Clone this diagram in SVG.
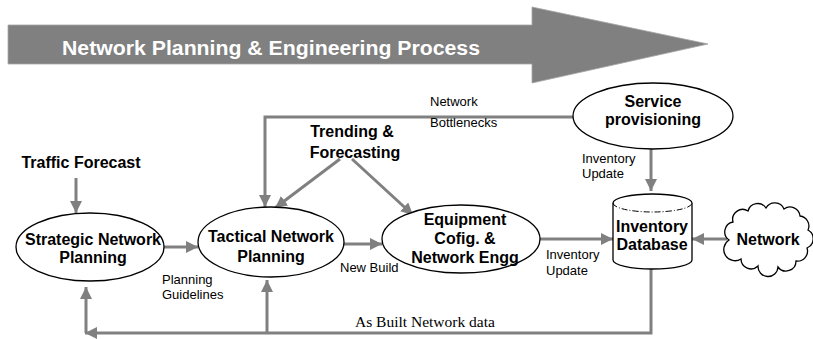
<svg xmlns="http://www.w3.org/2000/svg" width="813" height="339" viewBox="0 0 813 339">
  <style>
    .conn { fill: none; stroke: #808080; stroke-width: 3; }
    .node { fill: #ffffff; stroke: #000000; stroke-width: 1.3; }
    .bold { font-family: "Liberation Sans", Arial, sans-serif; font-weight: bold; font-size: 16px; fill: #000000; text-anchor: middle; }
    .lbl { font-family: "Liberation Sans", Arial, sans-serif; font-size: 13px; fill: #000000; }
    .serif { font-family: "Liberation Serif", "Times New Roman", serif; font-size: 15.5px; fill: #000000; }
  </style>
  <defs>
    <marker id="arrow" viewBox="0 0 10 10" refX="10" refY="5" markerWidth="12" markerHeight="12" markerUnits="userSpaceOnUse" orient="auto">
      <path d="M0,0 L10,5 L0,10 z" fill="#808080"/>
    </marker>
  </defs>

  <!-- process banner arrow -->
  <g id="banner">
    <path d="M8,25 L532,25 L532,7 L708,44 L532,83 L532,64 L8,64 z" fill="#808080" stroke="#a6a6a6" stroke-width="0.8"/>
    <text x="62" y="55" font-family="Liberation Sans, Arial, sans-serif" font-weight="bold" font-size="20" fill="#ffffff" textLength="418" lengthAdjust="spacingAndGlyphs">Network Planning &amp; Engineering Process</text>
  </g>

  <!-- connectors -->
  <g id="connectors">
    <path class="conn" d="M76,178 L76,213" marker-end="url(#arrow)"/>
    <path class="conn" d="M163,247 L198,247" marker-end="url(#arrow)"/>
    <path class="conn" d="M343,244 L382,244" marker-end="url(#arrow)"/>
    <path class="conn" d="M540,239 L613,239" marker-end="url(#arrow)"/>
    <path class="conn" d="M727,239 L692,239" marker-end="url(#arrow)"/>
    <path class="conn" d="M651,149 L651,191" marker-end="url(#arrow)"/>
    <path class="conn" d="M573,117 L265,117 L265,207" marker-end="url(#arrow)"/>
    <path class="conn" d="M340,159 L275,208" marker-end="url(#arrow)"/>
    <path class="conn" d="M352,159 L413,215" marker-end="url(#arrow)"/>
    <path class="conn" d="M651,268 L651,333 L85,333" marker-end="url(#arrow)"/>
    <path class="conn" d="M86,333 L86,287" marker-end="url(#arrow)"/>
    <path class="conn" d="M267,333 L267,280" marker-end="url(#arrow)"/>
  </g>

  <!-- connector labels -->
  <g id="labels">
    <text class="lbl" x="430" y="106">Network</text>
    <text class="lbl" x="430" y="127">Bottlenecks</text>
    <text class="lbl" x="582" y="163">Inventory</text>
    <text class="lbl" x="582" y="178">Update</text>
    <text class="lbl" x="546" y="259">Inventory</text>
    <text class="lbl" x="546" y="275">Update</text>
    <text class="lbl" x="340" y="272">New Build</text>
    <text class="lbl" x="162" y="284">Planning</text>
    <text class="lbl" x="162" y="299">Guidelines</text>
    <text class="serif" x="355" y="327">As Built Network data</text>
  </g>

  <g id="traffic-forecast">
    <text class="bold" x="81" y="168">Traffic Forecast</text>
  </g>

  <g id="trending-forecasting">
    <text class="bold" x="352" y="137">Trending &amp;</text>
    <text class="bold" x="355" y="158">Forecasting</text>
  </g>

  <g id="service-provisioning">
    <ellipse class="node" cx="653" cy="116" rx="80" ry="33"/>
    <text class="bold" x="653" y="107">Service</text>
    <text class="bold" x="653" y="125">provisioning</text>
  </g>

  <g id="strategic-planning">
    <ellipse class="node" cx="90" cy="247" rx="74" ry="34"/>
    <text class="bold" x="93" y="245">Strategic Network</text>
    <text class="bold" x="93" y="263">Planning</text>
  </g>

  <g id="tactical-planning">
    <ellipse class="node" cx="271" cy="242" rx="73" ry="35"/>
    <text class="bold" x="271" y="242">Tactical Network</text>
    <text class="bold" x="271" y="262">Planning</text>
  </g>

  <g id="equipment-config">
    <ellipse class="node" cx="461" cy="239" rx="79" ry="34"/>
    <text class="bold" x="465" y="225">Equipment</text>
    <text class="bold" x="465" y="244">Cofig. &amp;</text>
    <text class="bold" x="465" y="263">Network Engg</text>
  </g>

  <g id="inventory-database">
    <path class="node" d="M613,203 L613,260 A39.5,9 0 0 0 692,260 L692,203 A39.5,9 0 0 0 613,203 z"/>
    <path d="M613,203 A39.5,9 0 0 0 692,203" fill="none" stroke="#000" stroke-width="1" stroke-dasharray="6,2,1,2"/>
    <text class="bold" x="652" y="232">Inventory</text>
    <text class="bold" x="652" y="250">Database</text>
  </g>

  <g id="network-cloud">
    <path class="node" d="M729,240 A10,10 0 0 1 733,222 A10,10 0 0 1 748,211 A10,10 0 0 1 766,208 A10,10 0 0 1 784,209 A10,10 0 0 1 800,216 A10,10 0 0 1 808,230 A10,10 0 0 1 807,248 A10,10 0 0 1 796,261 A10,10 0 0 1 778,267 A10,10 0 0 1 758,266 A10,10 0 0 1 741,259 A10,10 0 0 1 729,240 z"/>
    <text class="bold" x="768" y="245">Network</text>
  </g>
</svg>
